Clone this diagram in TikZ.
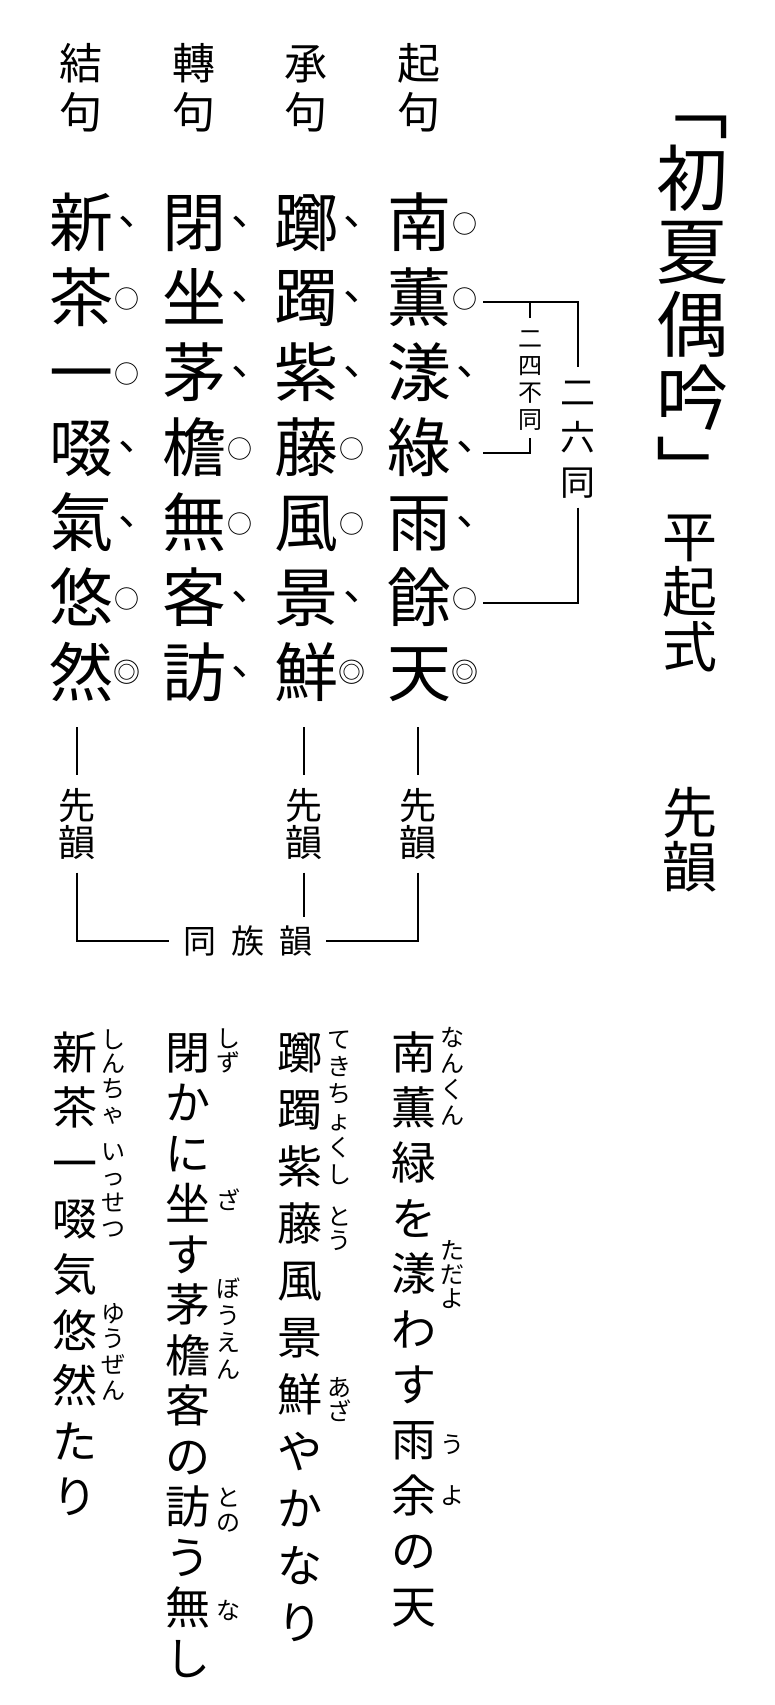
\documentclass[tikz,border=0pt]{standalone}
\usepackage{fontspec}
\newfontfamily\jp{Noto Sans CJK JP}
\usetikzlibrary{calc}
\tikzset{
  ch/.style={inner sep=0pt, outer sep=0pt, font=\jp\fontsize{#1pt}{#1pt}\selectfont,
    /utils/exec={\pgfmathsetmacro\chh{0.88*#1}\pgfmathsetmacro\chd{0.12*#1}},
    text height=\chh pt, text depth=\chd pt},
  big/.style={ch=64},
  mko/.style={ch=25, xshift=46pt, yshift=-2pt},
  mkd/.style={inner sep=0pt, outer sep=0pt, font=\jp\fontsize{42pt}{42pt}\selectfont,
    text height=6pt, text depth=6pt, minimum width=12pt, xshift=47pt},
  mke/.style={ch=27, xshift=46pt, yshift=0pt},
  fr/.style={ch=24},
  ln/.style={line width=1.4pt},
}
\newcommand\mto{○}
\newcommand\mtd{\makebox[0pt][l]{\hspace{-9.3pt}\raisebox{-3.5pt}{、}}}
\newcommand\mte{◎}
\newcommand\vstack[6]{%
  \foreach \cc [count=\ii] in {#6} {\node[#2] (#1-\ii) at ({#3},{#4+(\ii-1)*(#5)}) {\cc};}}
\newcommand\gridcol[3]{%
  \foreach \cc/\mm [count=\rr] in {#3} {%
    \node[big] (g-#1-\rr) at ({#2},{222+(\rr-1)*75}) {\cc};
    \node[mk\mm] (m-#1-\rr) at (g-#1-\rr.center) {\csname mt\mm\endcsname};}}
\begin{document}
\begin{tikzpicture}[x=1pt,y=-1pt]
\fill[white] (0,0) rectangle (775,1705);
\useasboundingbox (0,0) rectangle (775,1705);

% headers
\vstack{h1}{ch=43}{419}{63}{49}{起,句}
\vstack{h2}{ch=43}{306}{63}{49}{承,句}
\vstack{h3}{ch=43}{194}{63}{49}{轉,句}
\vstack{h4}{ch=43}{81}{63}{49}{結,句}

% poem grid
\gridcol{1}{419}{南/o,薫/o,漾/d,綠/d,雨/d,餘/o,天/e}
\gridcol{2}{306}{躑/d,躅/d,紫/d,藤/o,風/o,景/d,鮮/e}
\gridcol{3}{194}{閉/d,坐/d,茅/d,檐/o,無/o,客/d,訪/d}
\gridcol{4}{81}{新/d,茶/o,一/o,啜/d,氣/d,悠/o,然/e}

% brackets 二六同 / 二四不同
\coordinate (b26a) at ([xshift=64pt,yshift=-5pt]g-1-2.center);
\coordinate (b26b) at ([xshift=64pt,yshift=-6pt]g-1-6.center);
\coordinate (b24b) at ([xshift=64pt,yshift=-6pt]g-1-4.center);
\vstack{l26}{ch=35}{578}{392}{45}{二,六,同}
\vstack{l24}{ch=24}{530}{338}{27}{二,四,不,同}
\draw[ln] (b26a) -| ([yshift=8pt]l26-1.north);
\draw[ln] ([yshift=-8pt]l26-3.south) |- (b26b);
\draw[ln] ([yshift=8pt]l24-1.north) -- (l24-1.north |- b26a);
\draw[ln] ([yshift=-7pt]l24-4.south) |- (b24b);

% title column
\vstack{t}{ch=72}{692}{105}{73}{﹁,初,夏,偶,吟,﹂}
\vstack{p}{ch=55}{690}{537}{55}{平,起,式}
\vstack{r}{ch=55}{690}{813}{54}{先,韻}

% rhyme labels
\vstack{s1}{ch=37}{418}{805}{37}{先,韻}
\vstack{s2}{ch=37}{304}{805}{37}{先,韻}
\vstack{s4}{ch=37}{77}{805}{37}{先,韻}
\node[ch=33] (d-1) at (200,941) {同};
\node[ch=33] (d-2) at (248,941) {族};
\node[ch=33] (d-3) at (296,941) {韻};
\draw[ln] ($(s1-1.north |- g-1-7.south)+(0,23)$) -- ([yshift=12pt]s1-1.north);
\draw[ln] ($(s2-1.north |- g-2-7.south)+(0,23)$) -- ([yshift=12pt]s2-1.north);
\draw[ln] ($(s4-1.north |- g-4-7.south)+(0,23)$) -- ([yshift=12pt]s4-1.north);
\draw[ln] ([yshift=-12pt]s4-2.south) |- ([xshift=-15pt]d-1.west);
\draw[ln] ([yshift=-12pt]s1-2.south) |- ([xshift=13pt]d-3.east);
\draw[ln] ([yshift=-12pt]s2-2.south) -- ($(s2-2.south |- d-3.north)+(0,-8)$);

% reading text
\vstack{y1}{ch=45}{414}{1052}{55.4}{南,薫,緑,を,漾,わ,す,雨,余,の,天}
\vstack{y2}{ch=45}{300}{1052}{57}{躑,躅,紫,藤,風,景,鮮,や,か,な,り}
\vstack{y3}{ch=45}{188}{1052}{50.5}{閉,か,に,坐,す,茅,檐,客,の,訪,う,無,し}
\vstack{y4}{ch=45}{75}{1052}{55.6}{新,茶,一,啜,気,悠,然,た,り}

% furigana
\vstack{f1a}{fr}{452}{1037}{26}{な,ん,く,ん}
\vstack{f1b}{fr}{452}{1250}{24}{た,だ,よ}
\vstack{f1c}{fr}{452}{1444}{25}{う}
\vstack{f1d}{fr}{452}{1495}{25}{よ}
\vstack{f2a}{fr}{339}{1039}{27}{て,き,ち,ょ,く,し}
\vstack{f2b}{fr}{339}{1216.5}{24}{と,う}
\vstack{f2c}{fr}{339}{1387}{24}{あ,ざ}
\vstack{f3a}{fr}{228}{1038.5}{24}{し,ず}
\vstack{f3b}{fr}{228}{1200}{25}{ざ}
\vstack{f3c}{fr}{228}{1288}{27}{ぼ,う,え,ん}
\vstack{f3d}{fr}{228}{1497}{25}{と,の}
\vstack{f3e}{fr}{228}{1610}{25}{な}
\vstack{f4a}{fr}{113}{1039}{24.7}{し,ん,ち,ゃ}
\vstack{f4b}{fr}{113}{1151}{25.7}{い,っ,せ,つ}
\vstack{f4c}{fr}{113}{1313}{25.7}{ゆ,う,ぜ,ん}
\end{tikzpicture}
\end{document}
